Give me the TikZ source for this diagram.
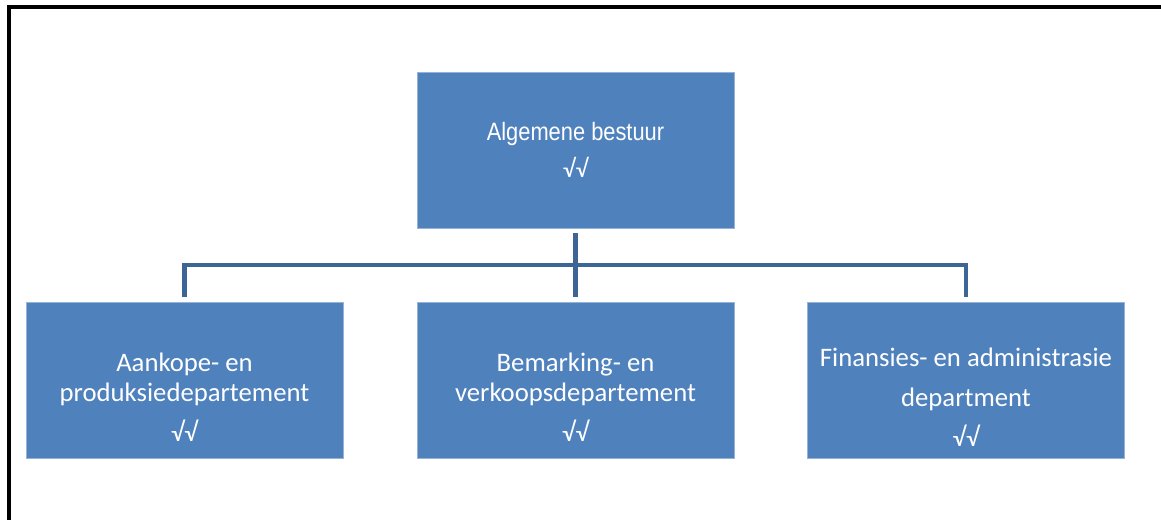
\documentclass[tikz,border=0pt]{standalone}
\usepackage{fontspec}
\setmainfont{Carlito}
\newfontfamily\arialfont[FakeStretch=0.87]{Liberation Sans}
\usetikzlibrary{calc}
\definecolor{boxblue}{HTML}{4F81BD}
\definecolor{linkblue}{HTML}{3D6697}

\begin{document}
\begin{tikzpicture}[x=0.02cm, y=-0.02cm]
				\tikzset{box/.style = {shape=rectangle, fill=boxblue, draw=boxblue!60!white, line width=0.3pt,
						minimum width=6.34cm, minimum height=3.12cm, inner sep=0pt, outer sep=2.8pt}}
				\tikzset{txt/.style = {text=white, align=center, font=\fontsize{15.2}{16.9}\selectfont}}
				\tikzset{conn/.style = {draw=linkblue, line width=2.8pt}}
				\useasboundingbox (0,0) rectangle (1161,520);
				% frame
				\draw[line width=2.3pt] (9,520) -- (9,6.7) -- (1161,6.7);
				\node[box, txt, font=\arialfont\fontsize{14.3}{21.5}\selectfont] (top) at (575.5,150) {Algemene bestuur\\\fontspec{Carlito}√√};
				\foreach \a/\x in {left/184.5, mid/575.5, right/966}{
					\node[box] (\a) at (\x,380) {};
				}
				\node[txt] (lefttxt) at ($(left)+(0,17)$) {Aankope- en\\produksiedepartement\\[6pt]√√};
				\node[txt] (midtxt) at ($(mid)+(0,17)$) {Bemarking- en\\verkoopsdepartement\\[6pt]√√};
				\node[txt, font=\fontsize{15.2}{22.7}\selectfont] (righttxt) at ($(right)+(0,17)$) {Finansies- en administrasie\\department\\√√};
				\coordinate (bar) at (575.5,265);
				\draw[conn] (top.south) -- (mid.north);
				\draw[conn] (left.north) |- (bar) -| (right.north);
			\end{tikzpicture}
\end{document}
